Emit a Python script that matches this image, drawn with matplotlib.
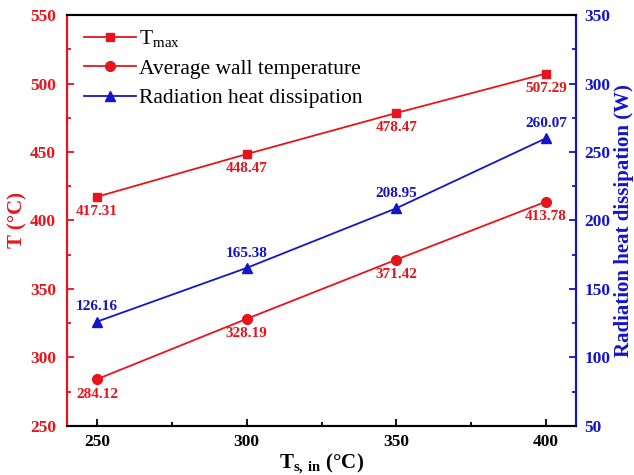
import matplotlib
matplotlib.use("Agg")
import matplotlib.pyplot as plt
from matplotlib.ticker import MultipleLocator

plt.rcParams['font.family'] = ['Liberation Serif', 'DejaVu Serif']
plt.rcParams['mathtext.fontset'] = 'custom'
plt.rcParams['mathtext.rm'] = 'Liberation Serif'
plt.rcParams['mathtext.bf'] = 'Liberation Serif:bold'

ts_in = [250, 300, 350, 400]
t_max = [417.31, 448.47, 478.47, 507.29]
t_wall = [284.12, 328.19, 371.42, 413.78]
q_rad = [126.16, 165.38, 208.95, 260.07]

RED = '#e8141c'
BLUE = '#1414c8'

fig = plt.figure(figsize=(6.34, 4.75), dpi=100)
ax = fig.add_axes([0.1057, 0.1032, 0.8028, 0.8652])
ax2 = ax.twinx()

l1, = ax.plot(ts_in, t_max, color=RED, marker='s', ms=6, lw=1.3, label=r'T$_{\mathrm{max}}$')
l2, = ax.plot(ts_in, t_wall, color=RED, marker='o', ms=7, lw=1.3, label='Average wall temperature')
l3, = ax2.plot(ts_in, q_rad, color=BLUE, marker='^', ms=7, lw=1.3, label='Radiation heat dissipation')

for x, y in zip(ts_in, t_max):
    ax.annotate(f'{y:.2f}', (x, y), xytext=(0, -6), textcoords='offset points',
                ha='center', va='top', color=RED, fontsize=11, fontweight='bold')
for x, y in zip(ts_in, t_wall):
    ax.annotate(f'{y:.2f}', (x, y), xytext=(0, -6), textcoords='offset points',
                ha='center', va='top', color=RED, fontsize=11, fontweight='bold')
for x, y in zip(ts_in, q_rad):
    ax2.annotate(f'{y:.2f}', (x, y), xytext=(0, 6), textcoords='offset points',
                 ha='center', va='bottom', color=BLUE, fontsize=11, fontweight='bold')

ax.set_xlim(240, 410)
ax.set_ylim(250, 550)
ax2.set_ylim(50, 350)
ax.xaxis.set_major_locator(MultipleLocator(50))
ax.xaxis.set_minor_locator(MultipleLocator(25))
ax.yaxis.set_major_locator(MultipleLocator(50))
ax.yaxis.set_minor_locator(MultipleLocator(25))
ax2.yaxis.set_major_locator(MultipleLocator(50))
ax2.yaxis.set_minor_locator(MultipleLocator(25))

TS = 12.5
ax.tick_params(axis='x', which='both', direction='in', width=1.3, colors='black', labelsize=TS, pad=6)
ax.tick_params(axis='x', which='major', length=5)
ax.tick_params(axis='x', which='minor', length=3)
ax.tick_params(axis='y', which='both', direction='in', width=1.3, colors=RED, labelsize=TS, pad=8)
ax.tick_params(axis='y', which='major', length=5)
ax.tick_params(axis='y', which='minor', length=3)
ax2.tick_params(axis='y', which='both', direction='in', width=1.3, colors=BLUE, labelsize=TS, pad=6)
ax2.tick_params(axis='y', which='major', length=5)
ax2.tick_params(axis='y', which='minor', length=3)

for a in (ax, ax2):
    for lab in a.get_xticklabels() + a.get_yticklabels():
        lab.set_fontweight('bold')

for a in (ax, ax2):
    for s in a.spines.values():
        s.set_linewidth(1.5)
ax2.spines['left'].set_color(RED)
ax2.spines['right'].set_color(BLUE)
ax2.spines['top'].set_color('black')
ax2.spines['bottom'].set_color('black')
ax.spines['left'].set_color(RED)
ax.spines['right'].set_color(BLUE)

ax.set_xlabel(r'T$_{\mathbf{s,\,in}}$ (°C)', fontsize=15, fontweight='bold', labelpad=1)
ax.set_ylabel('T (°C)', fontsize=15, fontweight='bold', color=RED, labelpad=2)
ax2.set_ylabel('Radiation heat dissipation (W)', fontsize=15, fontweight='bold', color=BLUE, labelpad=3)

leg = ax.legend(handles=[l1, l2, l3], loc='upper left', frameon=False, fontsize=15.5,
                handlelength=2.4, handletextpad=0.15, labelspacing=0.42,
                bbox_to_anchor=(-0.005, 1.015))

fig.savefig('out.png', dpi=100)
